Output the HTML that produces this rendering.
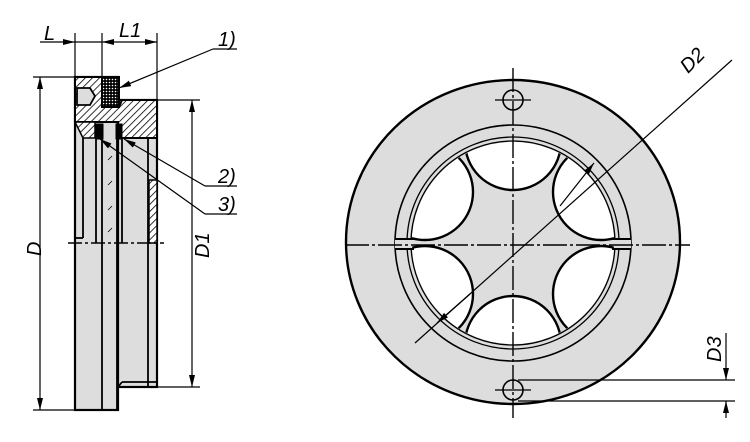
<!DOCTYPE html>
<html><head><meta charset="utf-8"><style>
html,body{margin:0;padding:0;background:#fff;}
svg{display:block;}
text{font-family:"Liberation Sans Narrow","Liberation Sans",sans-serif;font-style:italic;font-size:20px;fill:#000;}
</style></head><body>
<svg width="750" height="442" viewBox="0 0 750 442" xmlns="http://www.w3.org/2000/svg">
<defs>
<pattern id="h" patternUnits="userSpaceOnUse" width="5" height="5" patternTransform="rotate(45)">
<rect width="5" height="5" fill="#fff"/><line x1="0" y1="0" x2="0" y2="5" stroke="#000" stroke-width="1.6"/>
</pattern>
<pattern id="dots" patternUnits="userSpaceOnUse" width="3" height="3">
<rect width="3" height="3" fill="#000"/><circle cx="1.5" cy="1.5" r="0.8" fill="#fff"/>
</pattern>
<marker id="a" viewBox="0 0 12 6" refX="12" refY="3" markerWidth="12" markerHeight="6" orient="auto-start-reverse" markerUnits="userSpaceOnUse">
<path d="M0,0 L12,3 L0,6 z" fill="#000"/></marker>
<clipPath id="win"><circle cx="513" cy="243" r="101"/></clipPath>
</defs>

<!-- ===== LEFT VIEW ===== -->
<g stroke="#000" fill="none">
<rect x="75" y="77" width="43" height="333" fill="#ddd" stroke-width="2.2"/>
<rect x="118" y="100" width="39" height="287" fill="#ddd" stroke-width="2.2"/>
<path d="M75,77 H102 V107 H119 L122,100 H157 V138 H118 V122 H75 Z" fill="url(#h)" stroke-width="2"/>
<path d="M75,122 H95 V138 H83 Z" fill="url(#h)" stroke-width="1.5"/>
<rect x="102" y="77" width="17" height="30" fill="url(#dots)" stroke-width="2"/>
<path d="M77,88 H90 L95,96 L90,105 H77 Z" fill="#ddd" stroke-width="1.8"/>
<rect x="96" y="124" width="7" height="15" fill="#000"/>
<rect x="116" y="124" width="6" height="15" fill="#000"/>
<g stroke-width="1.8">
<line x1="83" y1="138" x2="83" y2="238"/>
<line x1="96" y1="138" x2="96" y2="243"/>
<line x1="102" y1="138" x2="102" y2="410"/>
<line x1="117" y1="138" x2="117" y2="410"/>
<line x1="122" y1="138" x2="122" y2="243"/>
<line x1="148" y1="138" x2="148" y2="387"/>
<line x1="122" y1="382" x2="157" y2="382"/>
<line x1="122" y1="382" x2="118" y2="387"/>
<line x1="75" y1="238" x2="83" y2="238"/>
</g>
<rect x="149" y="180" width="8" height="63" fill="url(#h)" stroke-width="1.5"/>
<g stroke-width="0.8"><line x1="108" y1="160" x2="112" y2="156"/><line x1="108" y1="185" x2="112" y2="181"/><line x1="108" y1="210" x2="112" y2="206"/><line x1="108" y1="232" x2="112" y2="228"/></g>
<line x1="68" y1="243" x2="164" y2="243" stroke-width="1.5" stroke-dasharray="14,3,3,3"/>
<g stroke-width="1.2">
<line x1="75" y1="33" x2="75" y2="77"/>
<line x1="102" y1="33" x2="102" y2="77"/>
<line x1="157" y1="33" x2="157" y2="100"/>
<line x1="40" y1="42" x2="75" y2="42" marker-end="url(#a)"/>
<line x1="75" y1="42" x2="102" y2="42"/>
<line x1="125" y1="42" x2="102" y2="42" marker-end="url(#a)"/>
<line x1="125" y1="42" x2="157" y2="42" marker-end="url(#a)"/>
<line x1="33" y1="77" x2="75" y2="77"/>
<line x1="33" y1="410" x2="118" y2="410"/>
<line x1="40" y1="77" x2="40" y2="410" marker-start="url(#a)" marker-end="url(#a)"/>
<line x1="157" y1="100" x2="200" y2="100"/>
<line x1="157" y1="387" x2="200" y2="387"/>
<line x1="192" y1="100" x2="192" y2="387" marker-start="url(#a)" marker-end="url(#a)"/>
<line x1="213" y1="49" x2="237" y2="49"/>
<line x1="213" y1="49" x2="119" y2="88" marker-end="url(#a)"/>
<line x1="205" y1="186" x2="237" y2="186"/>
<line x1="205" y1="186" x2="124" y2="139" marker-end="url(#a)"/>
<line x1="205" y1="214" x2="237" y2="214"/>
<line x1="205" y1="214" x2="100" y2="139" marker-end="url(#a)"/>
</g>
</g>
<text x="44" y="40">L</text>
<text x="119" y="37">L1</text>
<text x="218" y="46">1)</text>
<text x="218" y="183">2)</text>
<text x="218" y="211">3)</text>
<text transform="translate(41,256) rotate(-90)">D</text>
<text transform="translate(209,258) rotate(-90)">D1</text>

<!-- ===== RIGHT VIEW ===== -->
<g stroke="#000" fill="none">
<ellipse cx="513" cy="242" rx="167" ry="162" fill="#ddd" stroke-width="2.4"/>
<circle cx="513" cy="243" r="118" stroke-width="1.6"/>
<circle cx="513" cy="243" r="106" stroke-width="1.3"/>
<circle cx="513" cy="243" r="102" stroke-width="1.3"/>
<g clip-path="url(#win)" fill="#fff" stroke-width="2.4">
<circle cx="513" cy="142" r="48"/>
<circle cx="513" cy="344" r="48"/>
<circle cx="601" cy="192" r="48"/>
<circle cx="425" cy="192" r="48"/>
<circle cx="601" cy="294" r="48"/>
<circle cx="425" cy="294" r="48"/>
</g>
<!-- slots -->
<rect x="395" y="239" width="17" height="10" fill="#ddd" stroke="none"/>
<rect x="614" y="239" width="17" height="10" fill="#ddd" stroke="none"/>
<g stroke-width="2">
<line x1="395" y1="239" x2="414" y2="239"/><line x1="395" y1="249" x2="414" y2="249"/>
<line x1="612" y1="239" x2="631" y2="239"/><line x1="612" y1="249" x2="631" y2="249"/>
</g>
<circle cx="513" cy="100" r="10" fill="#ddd" stroke-width="1.6"/>
<circle cx="513" cy="390" r="10" fill="#ddd" stroke-width="1.6"/>
<line x1="495" y1="100" x2="531" y2="100" stroke-width="1.2"/>
<line x1="495" y1="390" x2="531" y2="390" stroke-width="1.2"/>
<line x1="513" y1="68" x2="513" y2="418" stroke-width="1.4" stroke-dasharray="24,3,3,3"/>
<line x1="345" y1="245" x2="690" y2="245" stroke-width="1.4" stroke-dasharray="24,3,3,3"/>
<line x1="415" y1="343" x2="732" y2="60" stroke-width="1.2"/>
<line x1="470" y1="294" x2="437" y2="323" stroke-width="1.2" marker-end="url(#a)"/>
<line x1="560" y1="206" x2="594" y2="163" stroke-width="1.2" marker-end="url(#a)"/>
<line x1="518" y1="380" x2="735" y2="380" stroke-width="1.2"/>
<line x1="518" y1="401" x2="735" y2="401" stroke-width="1.2"/>
<line x1="726" y1="333" x2="726" y2="380" stroke-width="1.2" marker-end="url(#a)"/>
<line x1="726" y1="418" x2="726" y2="401" stroke-width="1.2" marker-end="url(#a)"/>
</g>
<text transform="translate(688,74) rotate(-45)">D2</text>
<text transform="translate(721,362) rotate(-90)">D3</text>
</svg>
</body></html>
